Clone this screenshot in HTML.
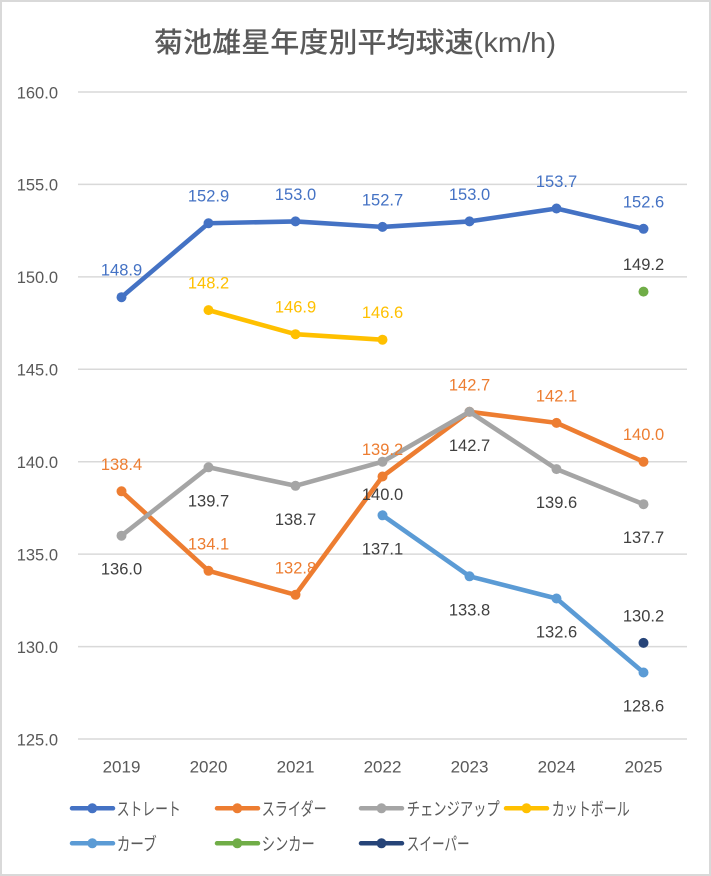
<!DOCTYPE html>
<html><head><meta charset="utf-8"><style>
html,body{margin:0;padding:0;background:#fff;}
svg{display:block;}
text{font-family:"Liberation Sans","Noto Sans CJK JP",sans-serif;}
</style></head><body>
<svg width="711" height="876" viewBox="0 0 711 876" xmlns="http://www.w3.org/2000/svg">
<rect x="1" y="1" width="709" height="874" fill="#fff" stroke="#d9d9d9" stroke-width="2"/>
<text x="355" y="52" text-anchor="middle" font-size="28" font-weight="500" fill="#595959" textLength="402" lengthAdjust="spacingAndGlyphs" style="font-family:'Liberation Sans','Noto Sans CJK JP',sans-serif">菊池雄星年度別平均球速(km/h)</text>
<g stroke="#d9d9d9" stroke-width="1.5">
<line x1="78" y1="92" x2="687" y2="92"/>
<line x1="78" y1="184.4" x2="687" y2="184.4"/>
<line x1="78" y1="276.9" x2="687" y2="276.9"/>
<line x1="78" y1="369.3" x2="687" y2="369.3"/>
<line x1="78" y1="461.7" x2="687" y2="461.7"/>
<line x1="78" y1="554.1" x2="687" y2="554.1"/>
<line x1="78" y1="646.6" x2="687" y2="646.6"/>
<line x1="78" y1="739" x2="687" y2="739"/>
</g>
<g font-size="16.5" fill="#595959" text-anchor="end">
<text x="58" y="98.3">160.0</text>
<text x="58" y="190.7">155.0</text>
<text x="58" y="283.2">150.0</text>
<text x="58" y="375.6">145.0</text>
<text x="58" y="468">140.0</text>
<text x="58" y="560.4">135.0</text>
<text x="58" y="652.9">130.0</text>
<text x="58" y="745.3">125.0</text>
</g>
<g font-size="17" fill="#595959" text-anchor="middle">
<text x="121.5" y="772.7">2019</text>
<text x="208.5" y="772.7">2020</text>
<text x="295.5" y="772.7">2021</text>
<text x="382.5" y="772.7">2022</text>
<text x="469.5" y="772.7">2023</text>
<text x="556.5" y="772.7">2024</text>
<text x="643.5" y="772.7">2025</text>
</g>
<!-- Series -->
<g fill="none" stroke-width="4.6" stroke-linejoin="round" stroke-linecap="round">
<polyline stroke="#4472C4" points="121.5,297.2 208.5,223.25 295.5,221.4 382.5,226.9 469.5,221.4 556.5,208.5 643.5,228.8"/>
</g>
<g fill="#4472C4">
<circle cx="121.5" cy="297.2" r="5"/><circle cx="208.5" cy="223.25" r="5"/><circle cx="295.5" cy="221.4" r="5"/><circle cx="382.5" cy="226.9" r="5"/><circle cx="469.5" cy="221.4" r="5"/><circle cx="556.5" cy="208.5" r="5"/><circle cx="643.5" cy="228.8" r="5"/>
</g>
<polyline fill="none" stroke="#ED7D31" stroke-width="4.6" stroke-linejoin="round" stroke-linecap="round" points="121.5,491.3 208.5,570.8 295.5,594.8 382.5,476.5 469.5,411.8 556.5,422.9 643.5,461.7"/>
<g fill="#ED7D31">
<circle cx="121.5" cy="491.3" r="5"/><circle cx="208.5" cy="570.8" r="5"/><circle cx="295.5" cy="594.8" r="5"/><circle cx="382.5" cy="476.5" r="5"/><circle cx="469.5" cy="411.8" r="5"/><circle cx="556.5" cy="422.9" r="5"/><circle cx="643.5" cy="461.7" r="5"/>
</g>
<polyline fill="none" stroke="#A5A5A5" stroke-width="4.6" stroke-linejoin="round" stroke-linecap="round" points="121.5,535.7 208.5,467.3 295.5,485.8 382.5,461.7 469.5,411.8 556.5,469.1 643.5,504.2"/>
<g fill="#A5A5A5">
<circle cx="121.5" cy="535.7" r="5"/><circle cx="208.5" cy="467.3" r="5"/><circle cx="295.5" cy="485.8" r="5"/><circle cx="382.5" cy="461.7" r="5"/><circle cx="469.5" cy="411.8" r="5"/><circle cx="556.5" cy="469.1" r="5"/><circle cx="643.5" cy="504.2" r="5"/>
</g>
<polyline fill="none" stroke="#FFC000" stroke-width="4.6" stroke-linejoin="round" stroke-linecap="round" points="208.5,310.1 295.5,334.2 382.5,339.7"/>
<g fill="#FFC000">
<circle cx="208.5" cy="310.1" r="5"/><circle cx="295.5" cy="334.2" r="5"/><circle cx="382.5" cy="339.7" r="5"/>
</g>
<polyline fill="none" stroke="#5B9BD5" stroke-width="4.6" stroke-linejoin="round" stroke-linecap="round" points="382.5,515.3 469.5,576.3 556.5,598.5 643.5,672.5"/>
<g fill="#5B9BD5">
<circle cx="382.5" cy="515.3" r="5"/><circle cx="469.5" cy="576.3" r="5"/><circle cx="556.5" cy="598.5" r="5"/><circle cx="643.5" cy="672.5" r="5"/>
</g>
<circle cx="643.5" cy="291.6" r="5" fill="#70AD47"/>
<circle cx="643.5" cy="642.9" r="5" fill="#264478"/>
<!-- Data labels -->
<g font-size="16.5" text-anchor="middle">
<g fill="#4472C4">
<text x="121.5" y="275.7">148.9</text><text x="208.5" y="201.7">152.9</text><text x="295.5" y="199.9">153.0</text><text x="382.5" y="205.4">152.7</text><text x="469.5" y="199.9">153.0</text><text x="556.5" y="187">153.7</text><text x="643.5" y="207.3">152.6</text>
</g>
<g fill="#ED7D31">
<text x="121.5" y="469.8">138.4</text><text x="208.5" y="549.3">134.1</text><text x="295.5" y="573.3">132.8</text><text x="382.5" y="455">139.2</text><text x="469.5" y="390.3">142.7</text><text x="556.5" y="401.4">142.1</text><text x="643.5" y="440.2">140.0</text>
</g>
<g fill="#404040">
<text x="121.5" y="574.7">136.0</text><text x="208.5" y="506.3">139.7</text><text x="295.5" y="524.8">138.7</text><text x="382.5" y="500">140.0</text><text x="469.5" y="450.8">142.7</text><text x="556.5" y="508.1">139.6</text><text x="643.5" y="543.2">137.7</text>
</g>
<g fill="#FFC000">
<text x="208.5" y="288.6">148.2</text><text x="295.5" y="312.7">146.9</text><text x="382.5" y="318.2">146.6</text>
</g>
<g fill="#404040">
<text x="382.5" y="554.3">137.1</text><text x="469.5" y="615.3">133.8</text><text x="556.5" y="637.5">132.6</text><text x="643.5" y="711.5">128.6</text>
<text x="643.5" y="270.1">149.2</text>
<text x="643.5" y="621.4">130.2</text>
</g>
</g>
<!-- Legend -->
<g stroke-width="4.5" stroke-linecap="round">
<line x1="72" y1="808.3" x2="113" y2="808.3" stroke="#4472C4"/>
<line x1="217" y1="808.3" x2="258" y2="808.3" stroke="#ED7D31"/>
<line x1="361" y1="808.3" x2="402" y2="808.3" stroke="#A5A5A5"/>
<line x1="506" y1="808.3" x2="547" y2="808.3" stroke="#FFC000"/>
<line x1="72" y1="843.3" x2="113" y2="843.3" stroke="#5B9BD5"/>
<line x1="217" y1="843.3" x2="258" y2="843.3" stroke="#70AD47"/>
<line x1="361" y1="843.3" x2="402" y2="843.3" stroke="#264478"/>
</g>
<circle cx="92.3" cy="808.3" r="5" fill="#4472C4"/>
<circle cx="237.3" cy="808.3" r="5" fill="#ED7D31"/>
<circle cx="381.5" cy="808.3" r="5" fill="#A5A5A5"/>
<circle cx="526.5" cy="808.3" r="5" fill="#FFC000"/>
<circle cx="92.3" cy="843.3" r="5" fill="#5B9BD5"/>
<circle cx="237.3" cy="843.3" r="5" fill="#70AD47"/>
<circle cx="381.5" cy="843.3" r="5" fill="#264478"/>
<g font-size="18" fill="#595959">
<text x="116.7" y="815.3" textLength="64" lengthAdjust="spacingAndGlyphs">ストレート</text>
<text x="261.7" y="815.3" textLength="65" lengthAdjust="spacingAndGlyphs">スライダー</text>
<text x="406.7" y="815.3" textLength="93" lengthAdjust="spacingAndGlyphs">チェンジアップ</text>
<text x="551.7" y="815.3" textLength="78" lengthAdjust="spacingAndGlyphs">カットボール</text>
<text x="116.7" y="850.3" textLength="40" lengthAdjust="spacingAndGlyphs">カーブ</text>
<text x="261.7" y="850.3" textLength="53" lengthAdjust="spacingAndGlyphs">シンカー</text>
<text x="406.7" y="850.3" textLength="63" lengthAdjust="spacingAndGlyphs">スイーパー</text>
</g>
</svg>
</body></html>
